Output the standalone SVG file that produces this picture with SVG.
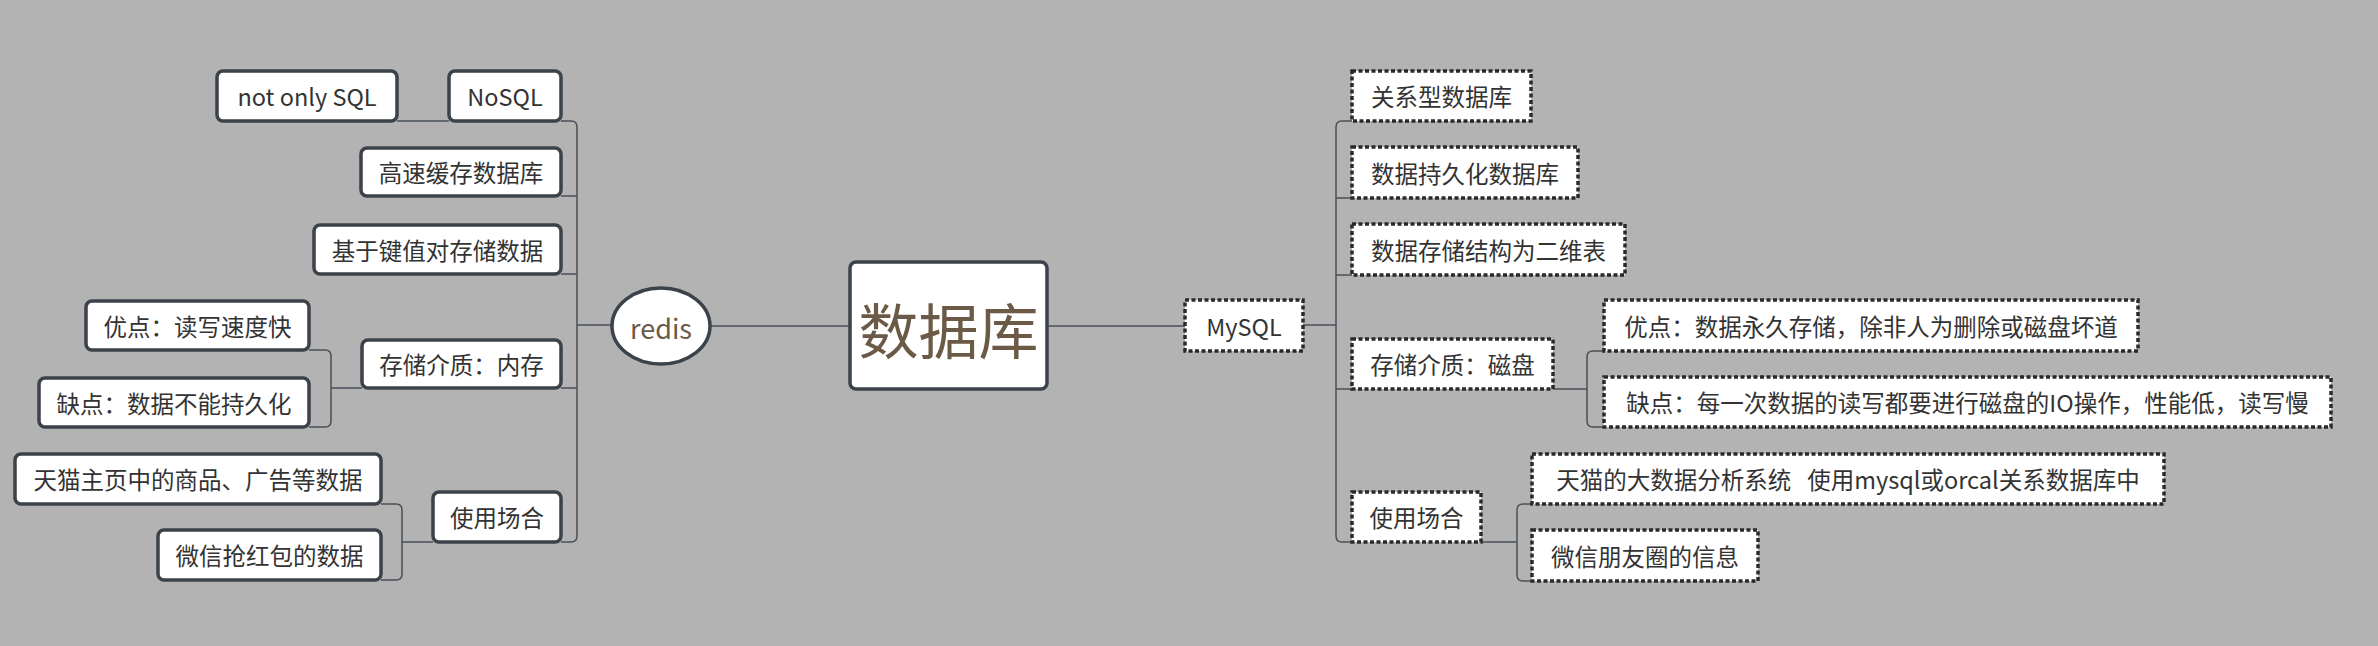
<svg xmlns="http://www.w3.org/2000/svg" width="2378" height="646" viewBox="0 0 2378 646">
<style>
.s{fill:#fff;stroke:#3b424a;stroke-width:3.5}
.d{fill:#fff;stroke:#2a2a2a;stroke-width:3.5;stroke-dasharray:4 2.5}
text{font-family:"Noto Sans CJK SC","Noto Sans",sans-serif;font-size:23.5px;fill:#333;text-anchor:middle;dominant-baseline:central}
.c path{fill:none;stroke:#4a5058;stroke-width:1.5}
</style>
<rect width="2378" height="646" fill="#b3b3b3"/>
<g class="c">
<path d="M710,326 H850" stroke-width="3"/>
<path d="M1047,326 H1185"/>
<path d="M612,325 H577" stroke-width="3"/>
<path d="M561,121 H571 Q577,121 577,127 V536 Q577,542 571,542 H561 M561,196 H577 M561,274 H577 M561,388 H577"/>
<path d="M397,121 H449"/>
<path d="M309,350 H325 Q331,350 331,356 V421 Q331,427 325,427 H309 M331,388 H362"/>
<path d="M381,504 H396 Q402,504 402,510 V574 Q402,580 396,580 H381 M402,542 H433"/>
<path d="M1303,325 H1336" stroke-width="3"/>
<path d="M1352,121 H1342 Q1336,121 1336,127 V536 Q1336,542 1342,542 H1352 M1336,198 H1352 M1336,275 H1352 M1336,389 H1352"/>
<path d="M1604,351 H1593 Q1587,351 1587,357 V421 Q1587,427 1593,427 H1604 M1553,389 H1587"/>
<path d="M1532,504 H1523 Q1517,504 1517,510 V575 Q1517,581 1523,581 H1532 M1481,542 H1517"/>
</g>
<g id="root"><rect class="s" x="850" y="262" width="197" height="127" rx="6"/><text x="948.5" y="327" style="font-size:60px;fill:#6b5a45">数据库</text></g>
<g id="redis"><ellipse class="s" cx="661" cy="326" rx="49" ry="38"/><text x="661" y="327" style="font-size:27px;fill:#6b5a45">redis</text></g>
<g id="nosql"><rect class="s" x="449" y="71" width="112" height="50" rx="6"/><text x="505" y="96">NoSQL</text></g>
<g id="notonly"><rect class="s" x="217" y="71" width="180" height="50" rx="6"/><text x="307" y="96">not only SQL</text></g>
<g id="cache"><rect class="s" x="361" y="148" width="200" height="48" rx="6"/><text x="461" y="172">高速缓存数据库</text></g>
<g id="kv"><rect class="s" x="314" y="225" width="247" height="49" rx="6"/><text x="437.5" y="249.5">基于键值对存储数据</text></g>
<g id="mem"><rect class="s" x="362" y="340" width="199" height="48" rx="6"/><text x="461.5" y="364">存储介质：内存</text></g>
<g id="pro1"><rect class="s" x="86" y="301" width="223" height="49" rx="6"/><text x="197.5" y="325.5">优点：读写速度快</text></g>
<g id="con1"><rect class="s" x="39" y="378" width="270" height="49" rx="6"/><text x="174" y="402.5">缺点：数据不能持久化</text></g>
<g id="use1"><rect class="s" x="433" y="492" width="128" height="50" rx="6"/><text x="497" y="517">使用场合</text></g>
<g id="tmall1"><rect class="s" x="15" y="454" width="366" height="50" rx="6"/><text x="198" y="479">天猫主页中的商品、广告等数据</text></g>
<g id="wx1"><rect class="s" x="158" y="530" width="223" height="50" rx="6"/><text x="269.5" y="555">微信抢红包的数据</text></g>
<g id="mysql"><rect class="d" x="1185" y="300" width="118" height="51"/><text x="1244" y="325.5">MySQL</text></g>
<g id="rel"><rect class="d" x="1352" y="71" width="179" height="50"/><text x="1441.5" y="96">关系型数据库</text></g>
<g id="persist"><rect class="d" x="1352" y="147" width="226" height="51"/><text x="1465" y="172.5">数据持久化数据库</text></g>
<g id="table"><rect class="d" x="1352" y="224" width="273" height="51"/><text x="1488.5" y="249.5">数据存储结构为二维表</text></g>
<g id="disk"><rect class="d" x="1352" y="339" width="201" height="50"/><text x="1452.5" y="364">存储介质：磁盘</text></g>
<g id="pro2"><rect class="d" x="1604" y="300" width="534" height="51"/><text x="1871" y="325.5">优点：数据永久存储，除非人为删除或磁盘坏道</text></g>
<g id="con2"><rect class="d" x="1604" y="377" width="727" height="50"/><text x="1967.5" y="402">缺点：每一次数据的读写都要进行磁盘的IO操作，性能低，读写慢</text></g>
<g id="use2"><rect class="d" x="1352" y="492" width="129" height="50"/><text x="1416.5" y="517">使用场合</text></g>
<g id="tmall2"><rect class="d" x="1532" y="454" width="632" height="50"/><text x="1848" y="479" xml:space="preserve">天猫的大数据分析系统   使用mysql或orcal关系数据库中</text></g>
<g id="wx2"><rect class="d" x="1532" y="530" width="226" height="51"/><text x="1645" y="555.5">微信朋友圈的信息</text></g>
</svg>
